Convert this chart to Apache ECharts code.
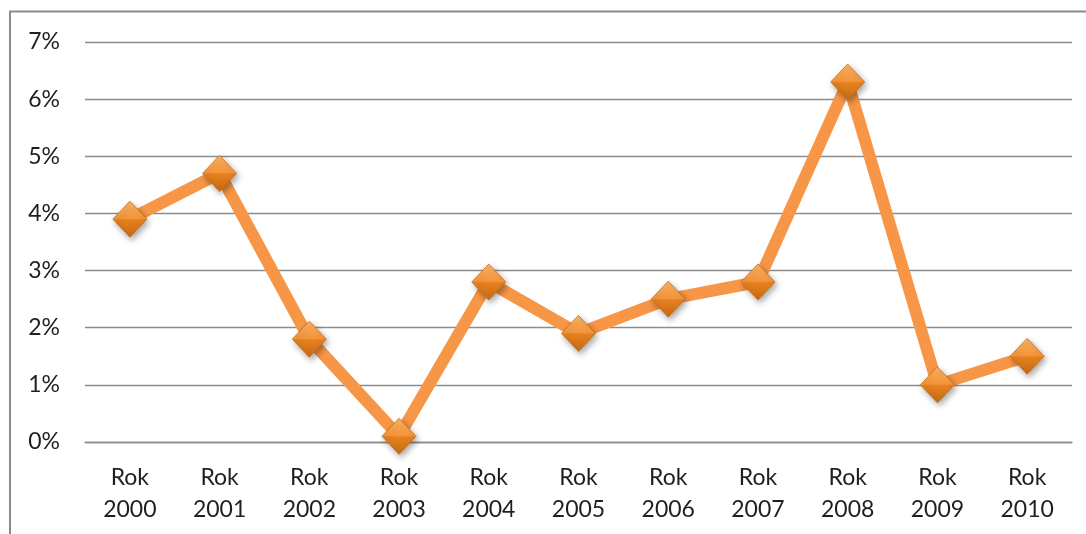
<!DOCTYPE html>
<html>
<head>
<meta charset="utf-8">
<script src="https://cdn.jsdelivr.net/npm/echarts@6/dist/echarts.min.js"></script>
<style>
  html, body { margin: 0; padding: 0; background: #fff; }
  #chart { width: 1086px; height: 534px; }
</style>
</head>
<body>
<div id="chart"></div>
<script>
// Annual rate by year, in percent
const categories = ['Rok\n2000', 'Rok\n2001', 'Rok\n2002', 'Rok\n2003', 'Rok\n2004', 'Rok\n2005',
                    'Rok\n2006', 'Rok\n2007', 'Rok\n2008', 'Rok\n2009', 'Rok\n2010'];
const values = [3.9, 4.7, 1.8, 0.1, 2.8, 1.9, 2.5, 2.8, 6.3, 1.0, 1.5];
const yTicks = { min: 0, max: 7, interval: 1 };

const FONT = 'Lato, "Open Sans", sans-serif';
const chart = echarts.init(document.getElementById('chart'), null, { renderer: 'canvas' });

chart.setOption({
  backgroundColor: '#ffffff',
  animation: false,
  graphic: [{
    type: 'rect',
    shape: { x: 10, y: 11.5, width: 1090, height: 540 },
    style: { fill: 'none', stroke: '#8c8c8c', lineWidth: 2 },
    silent: true
  }],
  grid: { left: 85, right: 14, top: 42, bottom: 92, containLabel: false },
  xAxis: {
    type: 'category',
    data: categories,
    boundaryGap: true,
    axisLine: { show: true, lineStyle: { color: '#8c8c8c', width: 1.3 } },
    axisTick: { show: false },
    axisLabel: {
      color: '#1f1f1f', fontSize: 23, fontFamily: FONT,
      lineHeight: 32, margin: 20, interval: 0
    }
  },
  yAxis: {
    type: 'value',
    min: yTicks.min, max: yTicks.max, interval: yTicks.interval,
    axisLine: { show: false },
    axisTick: { show: false },
    splitLine: { lineStyle: { color: '#8c8c8c', width: 1.3 } },
    axisLabel: {
      color: '#1f1f1f', fontSize: 23, fontFamily: FONT, margin: 25,
      formatter: v => v + '%'
    }
  },
  series: [{
    type: 'line',
    data: values,
    lineStyle: { color: '#f79646', width: 12, cap: 'round', join: 'round' },
    symbol: 'diamond',
    symbolSize: [34, 36],
    itemStyle: {
      color: new echarts.graphic.LinearGradient(0, 0, 0, 1, [
        { offset: 0, color: '#fbb466' },
        { offset: 0.48, color: '#f5953a' },
        { offset: 0.52, color: '#e5811f' },
        { offset: 1, color: '#c86a12' }
      ]),
      borderColor: '#c8701c',
      borderWidth: 0.8,
      shadowColor: 'rgba(0,0,0,0.35)',
      shadowBlur: 6,
      shadowOffsetX: 2,
      shadowOffsetY: 3
    },
    emphasis: { disabled: true }
  }]
});
</script>
</body>
</html>
